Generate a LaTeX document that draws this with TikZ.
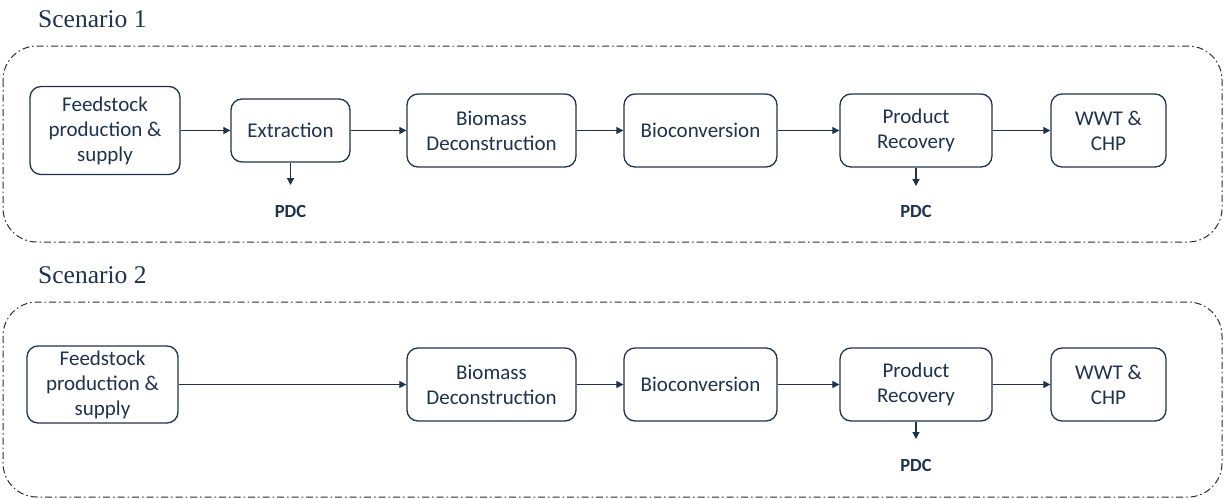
\documentclass[tikz,border=0pt]{standalone}
\usepackage{fontspec}
\setmainfont{Liberation Serif}
\newfontfamily\boxfont{Carlito}
\usetikzlibrary{arrows.meta}
\definecolor{navy}{RGB}{30,50,78}
\definecolor{frame}{RGB}{40,45,55}
\tikzset{
  stepbox/.style={draw=navy, line width=1.3pt, rounded corners=11pt, align=center,
    inner sep=0pt, text=navy, font=\boxfont\fontsize{21}{25}\selectfont},
  flow/.style={draw=navy, line width=1.2pt, -{Triangle[length=7pt,width=7pt]}},
  pdc/.style={text=navy, font=\boxfont\bfseries\fontsize{18.5}{20}\selectfont, inner sep=0pt},
  outer/.style={draw=frame, line width=1pt, rounded corners=34pt,
    dash pattern=on 7pt off 3pt on 1.5pt off 3pt},
  title/.style={text=navy, font=\fontsize{25.5}{28}\selectfont, anchor=base west, inner sep=0pt}
}
\begin{document}
\begin{tikzpicture}[x=1pt,y=-1pt]
\useasboundingbox (0,0) rectangle (1225,498);
% Scenario 1
\node[title] (t1) at (38,27) {Scenario 1};
\draw[outer] (3,46) rectangle (1222,242);
\node[stepbox, minimum width=150pt, minimum height=88pt] (f1) at (105,130.5) {Feedstock\\production \&\\supply};
\node[stepbox, minimum width=119pt, minimum height=63pt] (e1) at (290.5,130.5) {Extraction};
\node[stepbox, minimum width=169pt, minimum height=73pt] (b1) at (491.5,130.5) {Biomass\\Deconstruction};
\node[stepbox, minimum width=153pt, minimum height=73pt] (c1) at (700.5,130.5) {Bioconversion};
\node[stepbox, minimum width=152pt, minimum height=73pt] (p1) at (916,130.5) {Product\\Recovery};
\node[stepbox, minimum width=115pt, minimum height=73pt] (w1) at (1108.5,130.5) {WWT \&\\CHP};
\coordinate (e1d) at (290.5,185);
\coordinate (p1d) at (916,186);
\node[pdc] (x1) at (290.5,211) {PDC};
\node[pdc] (y1) at (916,211) {PDC};
\draw[flow] (f1.east |- e1.west) -- (e1.west);
\draw[flow] (e1.east) -- (b1.west);
\draw[flow] (b1.east) -- (c1.west);
\draw[flow] (c1.east) -- (p1.west);
\draw[flow] (p1.east) -- (w1.west);
\draw[flow] (e1.south) -- (e1d);
\draw[flow] (p1.south) -- (p1d);
% Scenario 2
\node[title] (t2) at (38,283) {Scenario 2};
\draw[outer] (3,302) rectangle (1222,497);
\node[stepbox, minimum width=151pt, minimum height=77pt] (f2) at (102.5,384.5) {Feedstock\\production \&\\supply};
\node[stepbox, minimum width=169pt, minimum height=73pt] (b2) at (491.5,384.5) {Biomass\\Deconstruction};
\node[stepbox, minimum width=153pt, minimum height=73pt] (c2) at (700.5,384.5) {Bioconversion};
\node[stepbox, minimum width=152pt, minimum height=73pt] (p2) at (916,384.5) {Product\\Recovery};
\node[stepbox, minimum width=115pt, minimum height=73pt] (w2) at (1108.5,384.5) {WWT \&\\CHP};
\coordinate (p2d) at (916,439);
\node[pdc] (y2) at (916,465) {PDC};
\draw[flow] (f2.east) -- (b2.west);
\draw[flow] (b2.east) -- (c2.west);
\draw[flow] (c2.east) -- (p2.west);
\draw[flow] (p2.east) -- (w2.west);
\draw[flow] (p2.south) -- (p2d);
\end{tikzpicture}
\end{document}
